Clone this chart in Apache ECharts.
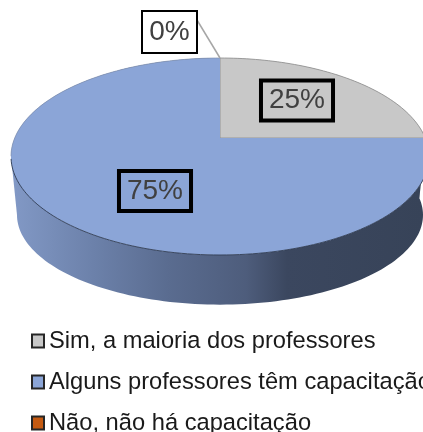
<!DOCTYPE html>
<html><head><meta charset="utf-8">
<style>html,body{margin:0;padding:0;background:#fff}#c{width:423px;height:432px}</style>
<script src="https://cdn.jsdelivr.net/npm/echarts@6/dist/echarts.min.js"></script>
</head><body><div id="c"></div>
<script>
const categories = ['Sim, a maioria dos professores','Alguns professores têm capacitação','Não, não há capacitação'];
const values = [25, 75, 0];
const labels = ['25%','75%','0%'];
const colors = ['#c8c8c8','#8ba5d7','#c55a11'];
const edges = ['#8c8c8c','#303c52','#c55a11'];

// pie geometry (screen-space ellipse of a tilted disc)
const G = {cx:220, cy:156.5, rx:209, ry:98.5, ax:220, ay:138, lowCy:215, lowScaleY:.91, shrink:6, label:[[297,100.5],[155,191],[169.5,32]]};
const total = values.reduce((a,b)=>a+b,0);

// point on rim for a turn fraction, measured clockwise from the top
function rim(f){
  const t = f*2*Math.PI, dx = Math.sin(t)*G.rx, dy = -Math.cos(t)*G.ry;
  const ox = (G.ax-G.cx)/G.rx, oy = (G.ay-G.cy)/G.ry, px = dx/G.rx, py = dy/G.ry;
  const a = px*px+py*py, b = 2*(ox*px+oy*py), c = ox*ox+oy*oy-1;
  const s = (-b+Math.sqrt(b*b-4*a*c))/(2*a);
  return [G.ax+dx*s, G.ay+dy*s];
}
function lower(p){
  return [G.cx+(p[0]-G.cx)*(G.rx-G.shrink)/G.rx, G.lowCy+(p[1]-G.cy)*G.lowScaleY];
}
const wallFill = {type:'linear',x:11,y:0,x2:423,y2:0,global:true,colorStops:[
  {offset:0,color:'#8299c6'},{offset:.2,color:'#6c81aa'},{offset:.38,color:'#5a6c90'},
  {offset:.57,color:'#4e5d7c'},{offset:.67,color:'#3b475f'},{offset:1,color:'#374358'}]};

function makeRender(i){
  return function(params, api){
    const v = api.value(0);
    const start = values.slice(0,i).reduce((a,b)=>a+b,0)/total;
    const end = start + v/total;
    const n = Math.max(2, Math.round((end-start)*240));
    const arc = [];
    for(let k=0;k<=n;k++) arc.push(rim(start+(end-start)*k/n));
    const kids = [];
    if(v>0){
      kids.push({type:'polygon',shape:{points:arc.concat(arc.map(lower).reverse())},
        style:{fill:i===1?wallFill:colors[i]}});
      if(i===1){
        // side strip joining the widest points of the top and bottom rims
        const leftTop = arc.reduce((m,p)=>p[0]<m[0]?p:m, arc[0]);
        kids.push({type:'polygon',shape:{points:[leftTop,lower([G.cx-G.rx,G.cy]),[G.cx,G.lowCy]]},
          style:{fill:wallFill}});
      }
      kids.push({type:'polygon',shape:{points:[[G.ax,G.ay]].concat(arc)},
        style:i===0?{fill:colors[i],stroke:edges[i],lineWidth:.8}:{fill:colors[i]}});
      if(i===1){
        const low = arc.filter(p=>p[1]>=G.cy), up = arc.filter(p=>p[1]<G.cy && p[0]<G.ax);
        kids.push({type:'polyline',shape:{points:low},style:{stroke:edges[i],lineWidth:.9,fill:null}});
        kids.push({type:'polyline',shape:{points:up},style:{stroke:'#7f8fad',lineWidth:.7,fill:null}});
      }
    } else {
      kids.push({type:'polyline',shape:{points:[[G.label[i][0]+27.5,G.label[i][1]-12],arc[0]]},
        style:{stroke:'#a6a6a6',lineWidth:1.5,fill:null}});
    }
    kids.push({type:'text',z2:10,style:{
      text:labels[i],x:G.label[i][0],y:G.label[i][1],align:'center',verticalAlign:'middle',
      font:'28px "Liberation Sans"',fill:'#404040',lineHeight:30,
      borderColor:'#000',borderWidth:2,padding:i===2?[5,0,5,0]:[5,8,5,8],
      width:i===2?53:undefined,
      backgroundColor:i===2?'#fff':'transparent'}});
    return {type:'group',children:kids};
  };
}

const chart = echarts.init(document.getElementById('c'),null,{renderer:'canvas'});
chart.setOption({
  animation:false,
  backgroundColor:'#fff',
  legend:{
    orient:'vertical',left:31,top:329,padding:0,height:140,
    data:categories,
    icon:'rect',itemWidth:12,itemHeight:13,itemGap:17,
    itemStyle:{borderColor:'#262626',borderWidth:2},
    textStyle:{fontFamily:'Liberation Sans',fontSize:23.7,color:'#1a1a1a',padding:[0,0,0,0],lineHeight:20},
    selectedMode:false
  },
  series:categories.map((name,i)=>({
    type:'custom',name,coordinateSystem:'none',z:2+i,
    itemStyle:{color:colors[i]},
    renderItem:makeRender(i),
    data:[[values[i]]],
    silent:true
  }))
});
</script></body></html>
